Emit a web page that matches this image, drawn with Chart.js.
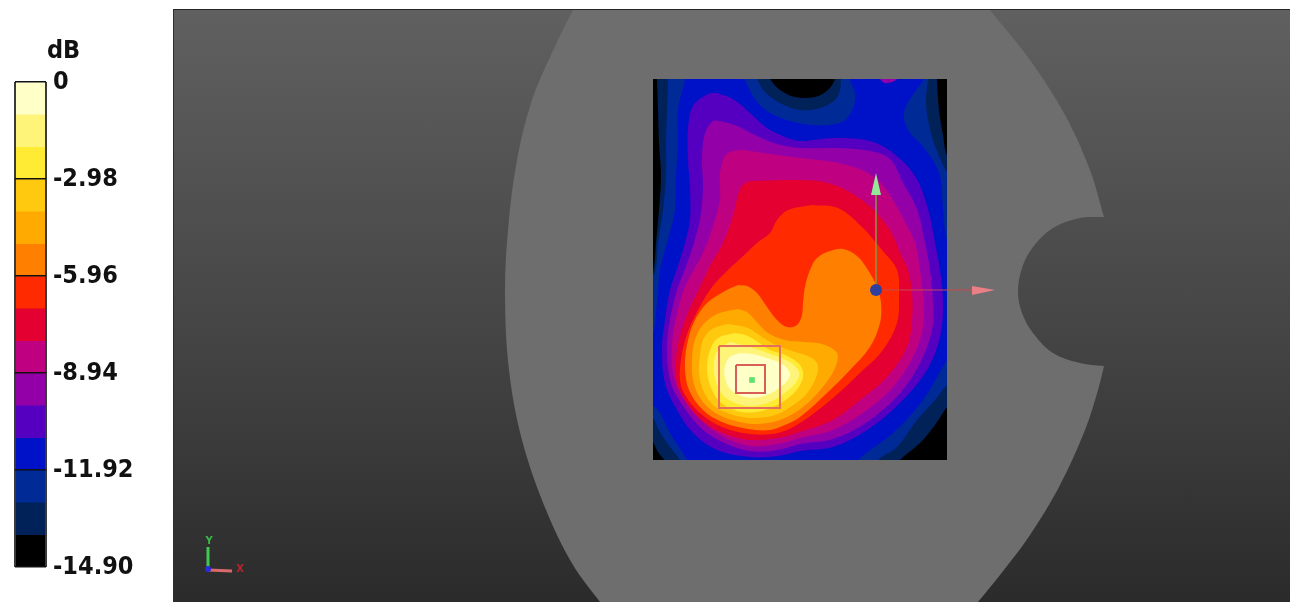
<!DOCTYPE html>
<html>
<head>
<meta charset="utf-8">
<script src="https://cdn.jsdelivr.net/npm/chart.js@4"></script>
<style>
  html, body { margin: 0; padding: 0; background: #fff; overflow: hidden; }
  canvas, #plot, #unit { position: absolute; }
  #plot { left: 173px; top: 9px; width: 1116px; height: 592px;
          border-top: 1px solid #262626; border-left: 1px solid #2e2e2e;
          background: linear-gradient(#606060, #474747 50%, #2b2b2b); }
  #unit { left: 47px; top: 35px; font: bold 25px "DejaVu Sans Condensed", "DejaVu Sans"; color: #111; filter: blur(0.4px); }
  #legend { filter: blur(0.4px); }
  #scan { background: #000; filter: blur(0.6px); }
  #marks { filter: blur(0.5px); }
</style>
</head>
<body>
<canvas id="legend" width="173" height="602" style="left:0;top:0"></canvas>
<div id="unit">dB</div>
<div id="plot"></div>
<canvas id="phantom" width="1116" height="592" style="left:174px;top:10px"></canvas>
<canvas id="scan" width="294" height="381" style="left:653px;top:79px"></canvas>
<canvas id="marks" width="1116" height="592" style="left:174px;top:10px"></canvas>
<script>
//colour bar
const dbEdges = [0, -0.99, -1.99, -2.98, -3.97, -4.97, -5.96, -6.95, -7.95, -8.94, -9.93, -10.93, -11.92, -12.91, -13.91, -14.90];
const bandColors = ["#ffffc8", "#fff47a", "#ffeb33", "#ffc90f", "#ffaa00", "#ff7f00", "#ff2a00", "#e40030",
                    "#bf0080", "#9300a8", "#5500c0", "#0012c8", "#002a96", "#002258", "#000000"];
const tickValues = [0, -2.98, -5.96, -8.94, -11.92, -14.90];
const tickLabels = ["0", "-2.98", "-5.96", "-8.94", "-11.92", "-14.90"];

//phantom outline
const phantomOutline = [[580,0],[573,10],[551,55],[532,100],[517,160],[508,230],[505,295],[509,370],[522,440],[546,510],[573,565],[600,602],[608,612],
  [970,612],[978,602],[1000,575],[1030,535],[1060,485],[1085,430],[1098,390],[1104,366],[1104,366],
  [1080,363],[1053,353],[1033,333],[1022,313],[1018,292],[1022,268],[1033,247],[1053,228],[1080,218],[1104,217],[1104,217],
  [1090,170],[1065,115],[1030,60],[990,10],[982,0],[580,0]];

//contours of the scan, outermost first. each one encloses everything above its level
const contour13_91 = [[657,70],[657,79],[658,110],[659,143],[661,176],[659,210],[656,243],[653,272],[645,290],[645,430],[653,442],[658,452],[666,462],[670,470],[895,470],[900,460],[920,443],[935,425],[947,407],[955,400],[955,160],[947,155],[943,135],[939,110],[937,79],[937,70],[835,70],[835,79],[828,90],[815,97],[795,97],[780,90],[770,79],[766,70],[657,70]];
const contour12_91 = [[668,70],[668,79],[667,110],[666,143],[666,176],[663,210],[658,243],[655,272],[645,290],[645,410],[653,418],[660,432],[670,447],[680,460],[682,470],[875,470],[878,460],[897,447],[917,420],[935,400],[947,385],[955,380],[955,178],[947,172],[940,158],[933,140],[928,120],[926,100],[928,79],[928,70],[841,70],[841,79],[840,90],[835,100],[820,108],[800,110],[780,103],[765,92],[757,79],[753,70],[668,70]];
const contour11_92 = [[685,70],[685,79],[678,110],[678,143],[676,176],[675,210],[667,243],[660,270],[657,303],[653,335],[645,360],[645,400],[658,410],[670,433],[687,460],[690,470],[855,470],[858,460],[893,433],[923,400],[947,360],[955,350],[955,245],[947,240],[943,209],[940,176],[932,159],[920,143],[910,133],[904,119],[905,109],[912,96],[924,79],[926,70],[851,70],[850,80],[855,93],[853,108],[842,122],[812,125],[778,117],[758,103],[745,80],[742,70],[685,70]];
const contour10_93 = [[717,93],[708,94],[693,106],[688,129],[688,159],[690,189],[690,219],[685,243],[677,269],[670,290],[665,320],[662,347],[665,383],[677,410],[693,433],[717,450],[750,457],[778,456],[800,451],[833,447],[867,430],[900,403],[927,370],[940,337],[943,303],[940,270],[935,243],[928,209],[915,176],[893,153],[870,141],[833,138],[800,141],[783,136],[767,128],[750,113],[733,99],[717,93]];
const contour9_93 = [[720,121],[713,121],[705,133],[702,159],[703,189],[700,219],[693,246],[685,269],[677,290],[670,320],[667,347],[670,380],[681,403],[700,427],[720,441],[750,451],[778,450],[800,444],[833,439],[867,422],[900,393],[920,363],[932,330],[933,303],[930,270],[925,243],[917,209],[903,183],[890,159],[870,151],[833,148],[800,148],[777,144],[757,136],[737,126],[720,121]];
const contour8_94 = [[743,150],[733,151],[725,156],[720,173],[720,199],[713,226],[703,253],[693,271],[685,287],[678,310],[672,343],[673,373],[682,397],[700,419],[722,436],[750,446],[778,444],[800,438],[833,430],[867,410],[893,387],[913,357],[923,327],[923,297],[920,270],[915,243],[905,222],[893,200],[880,182],[862,170],[833,162],[800,158],[777,155],[757,152],[743,150]];
const contour7_95 = [[752,181],[747,182],[740,189],[733,216],[723,243],[710,266],[700,287],[687,315],[679,340],[676,360],[677,383],[688,405],[706,424],[728,435],[750,440],[778,438],[800,432],[833,420],[860,400],[887,377],[907,347],[912,320],[912,293],[908,270],[902,257],[888,227],[862,200],[828,183],[790,180],[752,181]];
const contour6_95 = [[812,205],[788,210],[777,220],[770,233],[758,242],[742,257],[728,270],[712,287],[697,312],[686,337],[681,360],[680,380],[685,395],[700,413],[722,427],[750,434],[778,433],[800,423],[833,398],[860,373],[883,350],[897,323],[899,297],[897,270],[882,250],[862,227],[838,208],[812,205]];
const contour5_96 = [[738,285],[725,291],[707,303],[694,322],[687,345],[685,368],[689,390],[703,410],[722,422],[748,429],[770,430],[785,425],[800,417],[827,393],[850,370],[870,347],[880,323],[881,303],[877,287],[868,270],[857,256],[843,249],[830,251],[817,258],[810,270],[805,287],[803,303],[802,315],[797,325],[787,327],[777,320],[767,307],[757,293],[747,286],[738,285]];
const contour4_97 = [[738,309],[717,314],[702,326],[694,343],[692,362],[693,380],[700,398],[714,412],[732,420],[755,424],[780,420],[803,407],[822,388],[835,368],[837,353],[822,344],[805,342],[785,340],[768,333],[755,320],[747,312],[738,309]];
const contour3_97 = [[728,324],[712,329],[703,340],[700,355],[699,372],[703,390],[713,405],[730,414],[752,418],[775,415],[795,404],[808,392],[817,375],[817,363],[808,356],[795,352],[778,346],[762,337],[748,328],[728,324]];
const contour2_98 = [[735,333],[718,338],[710,350],[707,368],[710,385],[720,402],[737,411],[757,412],[775,406],[793,394],[803,378],[800,365],[785,355],[770,350],[755,340],[745,335],[735,333]];
const contour1_99 = [[730,342],[718,350],[714,362],[715,378],[722,394],[735,403],[752,406],[770,402],[786,392],[797,381],[799,372],[790,362],[770,354],[750,347],[730,342]];
const contour0_99 = [[740,353],[730,357],[725,366],[725,378],[731,390],[745,397],[760,397],[775,391],[787,381],[790,373],[782,364],[767,358],[752,354],[740,353]];
const topSpot = [[876,70],[880,79],[885,83],[892,82],[897,79],[899,70]];

const contours = [contour13_91, contour12_91, contour11_92, contour10_93, contour9_93, contour8_94, contour7_95,
                  contour6_95, contour5_96, contour4_97, contour3_97, contour2_98, contour1_99, contour0_99];

//probe marks
const yShaft = [[876,290],[876,195]];
const yHead = [[876,173],[881,195],[871,195],[876,173]];
const xShaft = [[876,290],[972,290]];
const xHead = [[995,290],[972,286],[972,295],[995,290]];
const probeCentre = [[876,290]];
const outerSquare = [[719,346],[780,346],[780,408],[719,408],[719,346]];
const innerSquare = [[736,365],[765,365],[765,393],[736,393],[736,365]];
const peakPoint = [[752,380]];
const triadY = [[208,568],[208,547]];
const triadX = [[208,570],[232,571]];
const triadCentre = [[208,569]];
const triadLetters = [["Y", 209, 541, "#39b54a"], ["X", 240, 569, "#b8242c"]];

const toPoints = (list) => list.map(([x, y]) => ({x, y}));

//same pixel frame for the layers, only the visible window changes
const frameOptions = (xMin, xMax, yMin, yMax) => ({
  responsive: false,
  animation: false,
  layout: { padding: 0, autoPadding: false },
  elements: { point: { radius: 0 } },
  plugins: { legend: { display: false }, tooltip: { enabled: false } },
  scales: {
    x: { type: "linear", display: false, min: xMin, max: xMax },
    y: { type: "linear", display: false, min: yMin, max: yMax, reverse: true },
  },
});

const shape = (list, color, tension) => ({
  data: toPoints(list), showLine: true, fill: "shape", backgroundColor: color,
  borderColor: color, borderWidth: 0, tension: tension,
});
const stroke = (list, color, width) => ({
  data: toPoints(list), showLine: true, borderColor: color, borderWidth: width, tension: 0,
});
const dot = (list, color, radius, style) => ({
  data: toPoints(list), pointRadius: radius, pointStyle: style, backgroundColor: color, borderWidth: 0,
});

//colour bar chart
new Chart(document.getElementById("legend"), {
  type: "bar",
  data: {
    labels: ["dB"],
    datasets: bandColors.map((color, i) => ({
      data: [[dbEdges[i + 1], dbEdges[i]]],
      backgroundColor: color,
      grouped: false,
      barPercentage: 1,
      categoryPercentage: 1,
    })),
  },
  options: {
    responsive: false,
    animation: false,
    layout: { padding: { left: 15, top: 82, bottom: 35 } },
    plugins: { legend: { display: false }, tooltip: { enabled: false } },
    scales: {
      x: {
        ticks: { display: false },
        grid: { offset: true, color: "#3a3a3a", lineWidth: 2, z: 1, drawTicks: false },
        border: { display: false },
      },
      y: {
        position: "right",
        min: -14.9,
        max: 0,
        afterBuildTicks: (axis) => { axis.ticks = tickValues.map((value) => ({value})); },
        afterFit: (axis) => { axis.width = 127; },
        ticks: {
          autoSkip: false,
          padding: 7,
          color: "#111",
          font: { family: "'DejaVu Sans Condensed', 'DejaVu Sans'", size: 25, weight: "bold" },
          callback: (value, index) => tickLabels[index],
        },
        grid: { color: "#111", lineWidth: 1.5, z: 1, drawTicks: false },
        border: { display: false },
      },
    },
  },
});

//phantom layer
new Chart(document.getElementById("phantom"), {
  type: "scatter",
  data: { datasets: [shape(phantomOutline, "#6e6e6e", 0.35)] },
  options: frameOptions(174, 1290, 10, 602),
});

//scan layer, the chart area clips the contours to the scanned rectangle
new Chart(document.getElementById("scan"), {
  type: "scatter",
  data: {
    datasets: [shape(topSpot, bandColors[9], 0.3)].concat(
      contours.map((c, i) => shape(c, bandColors[13 - i], 0.35)).reverse()
    ),
  },
  options: frameOptions(653, 947, 79, 460),
});

//probe marks layer
const drawLetters = {
  id: "drawLetters",
  afterDatasetsDraw(chart) {
    const {ctx, scales} = chart;
    ctx.save();
    ctx.font = "bold 10px 'DejaVu Sans'";
    ctx.textAlign = "center";
    ctx.textBaseline = "middle";
    for (const [text, x, y, color] of triadLetters) {
      ctx.fillStyle = color;
      ctx.fillText(text, scales.x.getPixelForValue(x), scales.y.getPixelForValue(y));
    }
    ctx.restore();
  },
};
new Chart(document.getElementById("marks"), {
  type: "scatter",
  plugins: [drawLetters],
  data: {
    datasets: [
      dot(probeCentre, "#2f3f9e", 6, "circle"),
      dot(triadCentre, "#2a2ae0", 3, "circle"),
      dot(peakPoint, "#62e070", 4, "rect"),
      shape(yHead, "#93e89a", 0),
      shape(xHead, "#ea7f86", 0),
      stroke(yShaft, "#7f9a4a", 1.5),
      stroke(xShaft, "#c4484e", 1),
      stroke(outerSquare, "#e2705a", 2),
      stroke(innerSquare, "#d85f58", 2),
      stroke(triadY, "#40c850", 3),
      stroke(triadX, "#d86a6a", 3),
    ],
  },
  options: frameOptions(174, 1290, 10, 602),
});
</script>
</body>
</html>
